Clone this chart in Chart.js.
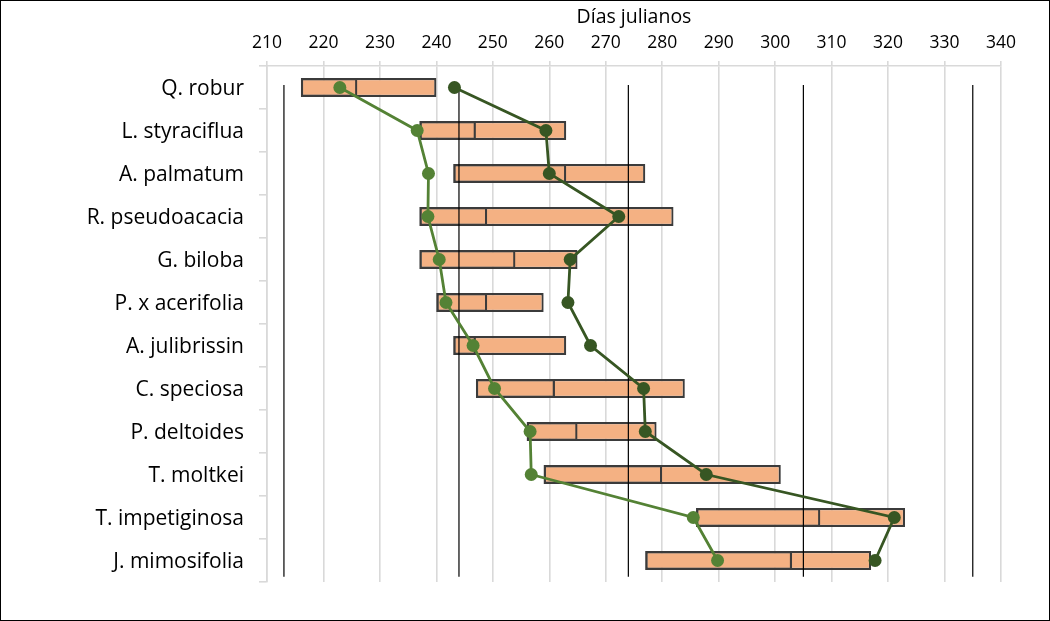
<!DOCTYPE html>
<html>
<head>
<meta charset="utf-8">
<script src="https://cdn.jsdelivr.net/npm/chart.js@4"></script>
<style>
    html, body { margin: 0; padding: 0; background: #fff; }
    #frame {
        width: 1050px; height: 621px; box-sizing: border-box;
        border: 1px solid #000; background: #fff;
    }
    #frame canvas { display: block; }
</style>
</head>
<body>
<div id="frame"><canvas id="julian-chart" width="1048" height="619"></canvas></div>
<script>
// Julian-day ranges per species (min / median / max) plus two reference series.
const species = [
    "Q. robur", "L. styraciflua", "A. palmatum", "R. pseudoacacia",
    "G. biloba", "P. x acerifolia", "A. julibrissin", "C. speciosa",
    "P. deltoides", "T. moltkei", "T. impetiginosa", "J. mimosifolia",
];
const dayMin    = [216, 237, 243, 237, 237, 240, 243, 247, 256, 259, 286, 277];
const dayMedian = [226, 247, 263, 249, 254, 249, 247, 261, 265, 280, 308, 303];
const dayMax    = [240, 263, 277, 282, 265, 259, 263, 284, 279, 301, 323, 317];
const lightSeries = [222.9, 236.6, 238.6, 238.5, 240.5, 241.7, 246.5, 250.3, 256.6, 256.8, 285.5, 289.8];
const darkSeries  = [243.2, 259.4, 260.0, 272.3, 263.7, 263.3, 267.3, 276.7, 277.0, 287.8, 321.1, 317.7];
// first day of Aug, Sep, Oct, Nov, Dec
const monthStarts = [213, 244, 274, 305, 335];
const xTicks = [210, 220, 230, 240, 250, 260, 270, 280, 290, 300, 310, 320, 330, 340];

const FONT = "'Open Sans', 'Liberation Sans', sans-serif";
const GRID = "#D9D9D9";

function initJulianChart() {
    const canvas = document.getElementById("julian-chart");
    if (!canvas) return;

    const barStyle = {
        type: "bar",
        borderColor: "#3B3B3B",
        borderWidth: 2.2,
        borderSkipped: false,
        grouped: false,
        barPercentage: 0.44,
        categoryPercentage: 1,
    };

    const monthLines = monthStarts.map(d => ({
        type: "line",
        label: "m" + d,
        indexAxis: "y",
        yAxisID: "y2",
        data: [{ x: d, y: 0.01 }, { x: d, y: 0.963 }],
        borderColor: "#000",
        borderWidth: 1.2,
        pointRadius: 0,
        order: 3,
    }));

    new Chart(canvas, {
        data: {
            labels: species,
            datasets: [
                // full range box
                { ...barStyle, label: "range", backgroundColor: "#F4B183", order: 6,
                  data: species.map((_, i) => [dayMin[i], dayMax[i]]) },
                // lower half outline: its right edge is the median mark
                { ...barStyle, label: "low", backgroundColor: "rgba(0,0,0,0)", order: 5,
                  data: species.map((_, i) => [dayMin[i], dayMedian[i]]) },
                ...monthLines,
                {
                    type: "line",
                    label: "dark",
                    indexAxis: "y",
                    data: darkSeries,
                    borderColor: "#375623",
                    backgroundColor: "#375623",
                    borderWidth: 2.8,
                    pointRadius: 6.5,
                    pointBorderWidth: 0,
                    order: 2,
                },
                {
                    type: "line",
                    label: "light",
                    indexAxis: "y",
                    data: lightSeries,
                    borderColor: "#548235",
                    backgroundColor: "#548235",
                    borderWidth: 2.8,
                    pointRadius: 6.5,
                    pointBorderWidth: 0,
                    order: 1,
                },
            ],
        },
        options: {
            indexAxis: "y",
            responsive: false,
            animation: false,
            layout: { padding: { left: 10, right: 48, top: 0, bottom: 38 } },
            plugins: {
                legend: { display: false },
                tooltip: { enabled: false },
            },
            scales: {
                x: {
                    type: "linear",
                    position: "top",
                    min: 210,
                    max: 340,
                    afterBuildTicks: s => { s.ticks = xTicks.map(v => ({ value: v })); },
                    afterFit: s => { s.height = 65; },
                    grid: { color: GRID, lineWidth: 1.6, tickLength: 5 },
                    border: { color: GRID, width: 1.6 },
                    ticks: { font: { family: FONT, size: 17.5 }, color: "#000", padding: 7 },
                    title: {
                        display: true,
                        text: "Días julianos",
                        font: { family: FONT, size: 19.5 },
                        color: "#000",
                        padding: { top: 5, bottom: 0 },
                    },
                },
                y: {
                    type: "category",
                    position: "left",
                    afterFit: s => { s.width = 256; },
                    grid: { drawOnChartArea: false, color: GRID, lineWidth: 1.6, tickLength: 8 },
                    border: { color: GRID, width: 1.6 },
                    ticks: { font: { family: FONT, size: 21 }, color: "#000", padding: 15, labelOffset: 2 },
                },
                y2: {
                    type: "linear",
                    axis: "y",
                    position: "right",
                    display: false,
                    min: 0,
                    max: 1,
                },
            },
        },
    });
}

if (document.readyState === "loading") {
    document.addEventListener("DOMContentLoaded", initJulianChart);
} else {
    initJulianChart();
}
</script>
</body>
</html>
